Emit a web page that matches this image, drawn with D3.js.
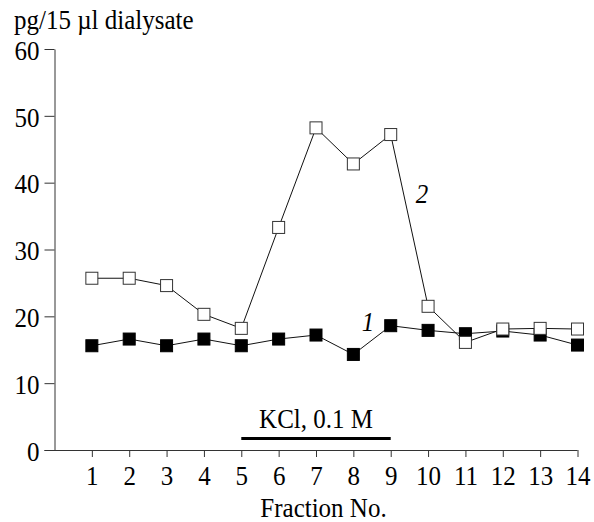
<!DOCTYPE html>
<html>
<head>
<meta charset="utf-8">
<script src="https://cdn.jsdelivr.net/npm/d3@7"></script>
<style>
  body { margin: 0; background: #fff; }
  text { font-family: "Liberation Serif", "Times New Roman", serif; fill: #000; }
</style>
</head>
<body>
<svg id="chart" width="594" height="522"></svg>
<script>
// Fraction numbers on the x axis
const fractions = [1, 2, 3, 4, 5, 6, 7, 8, 9, 10, 11, 12, 13, 14];
// curve 1 (filled squares) and curve 2 (open squares), pg/15 µl
const series1 = [15.6, 16.6, 15.6, 16.6, 15.6, 16.6, 17.2, 14.3, 18.6, 17.9, 17.4, 17.8, 17.2, 15.7];
const series2 = [25.7, 25.7, 24.6, 20.3, 18.2, 33.3, 48.2, 42.8, 47.2, 21.5, 16.1, 18.1, 18.2, 18.1];
const yTicks = [0, 10, 20, 30, 40, 50, 60];
// KCl application period (fractions)
const kclRange = [5, 9];

const svg = d3.select('#chart');
const fontSize = 25;
// the original lettering is a bit taller than plain Times
const stretchY = 1.1;

const x = d3.scaleLinear().domain([0, 14]).range([54.5, 577.5]);
const y = d3.scaleLinear().domain([0, 60]).range([450, 49]);

// move x/y into a transform so the text can be stretched from its baseline
function stretch(sel) {
    sel.each(function() {
        const t = d3.select(this);
        const tx = +t.attr('x') || 0;
        const ty = +t.attr('y') || 0;
        t.attr('x', null).attr('y', null)
            .attr('transform', `translate(${tx},${ty}) scale(1,${stretchY})`);
    });
}

function addText(px, py, str, anchor) {
    return svg.append('text')
        .attr('x', px).attr('y', py)
        .attr('text-anchor', anchor || 'start')
        .attr('font-size', fontSize)
        .text(str);
}

// y axis
const yAxis = svg.append('g')
    .attr('transform', 'translate(54.5,0)')
    .call(d3.axisLeft(y).tickValues(yTicks).tickSize(10).tickSizeOuter(0).tickPadding(5));
yAxis.attr('font-family', null).attr('font-size', null);
yAxis.selectAll('text').attr('font-size', fontSize).attr('dy', '0.37em').call(stretch);

// x axis, starts where the y axis 0 tick starts
const xAxis = svg.append('g')
    .attr('transform', 'translate(0,450)')
    .call(d3.axisBottom(x).tickValues(fractions).tickSize(7).tickSizeOuter(0));
xAxis.attr('font-family', null).attr('font-size', null);
xAxis.select('.domain').attr('d', `M44.5,0.5H${x(14)}`);
xAxis.selectAll('text').attr('font-size', fontSize).attr('y', 15.5).attr('dy', '0.71em').call(stretch);

svg.selectAll('.domain, .tick line').attr('stroke', '#333').attr('stroke-width', 1);

// axis titles
addText(14, 29, 'pg/15 µl dialysate').call(stretch);
addText(x(7.2), 517, 'Fraction No.', 'middle').call(stretch);

// KCl bar
svg.append('line')
    .attr('x1', x(kclRange[0])).attr('x2', x(kclRange[1]))
    .attr('y1', 438.5).attr('y2', 438.5)
    .attr('stroke', '#000').attr('stroke-width', 3);
addText(x(7), 428, 'KCl, 0.1 M', 'middle').call(stretch);

const line = d3.line().x((d, i) => x(fractions[i])).y(d => y(d));
const size = 12;

function drawSeries(values, fill, stroke) {
    svg.append('path').datum(values)
        .attr('d', line).attr('fill', 'none')
        .attr('stroke', '#111').attr('stroke-width', 1);
    svg.append('g').selectAll('rect')
        .data(values)
        .join('rect')
        .attr('x', (d, i) => x(fractions[i]) - size / 2)
        .attr('y', d => y(d) - size / 2)
        .attr('width', size).attr('height', size)
        .attr('fill', fill).attr('stroke', stroke).attr('stroke-width', 1);
}

drawSeries(series1, '#000', '#000');
drawSeries(series2, '#fff', '#333');

// curve labels
addText(368, 331, '1', 'middle').attr('font-style', 'italic').call(stretch);
addText(422, 203, '2', 'middle').attr('font-style', 'italic').call(stretch);
</script>
</body>
</html>
